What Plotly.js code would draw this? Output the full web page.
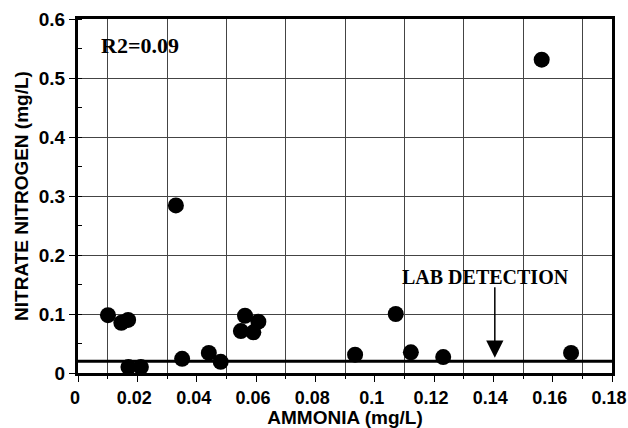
<!DOCTYPE html>
<html>
<head>
<meta charset="utf-8">
<script src="https://cdn.plot.ly/plotly-3.0.1.min.js"></script>
<style>html,body{margin:0;padding:0;background:#fff;}#chart{width:628px;height:428px;}</style>
</head>
<body>
<div id="chart"></div>
<script>
// Data
const ammonia = [0.0101, 0.0146, 0.0169, 0.0170, 0.0212, 0.0330, 0.0351, 0.0441, 0.0481,
                 0.0563, 0.0549, 0.0591, 0.0608, 0.0934, 0.1071, 0.1122, 0.1231, 0.1563, 0.1662];
const nitrate = [0.098, 0.085, 0.090, 0.010, 0.010, 0.284, 0.024, 0.034, 0.019,
                 0.097, 0.071, 0.069, 0.087, 0.031, 0.100, 0.035, 0.027, 0.531, 0.034];
const labDetection = 0.02;
const arrowX = 0.1405;
const r2Label = 'R2=0.09';
const labLabel = 'LAB DETECTION';
const xTickVals = [0, 0.02, 0.04, 0.06, 0.08, 0.1, 0.12, 0.14, 0.16, 0.18];
const xTickText = ['0', '0.02', '0.04', '0.06', '0.08', '0.1', '0.12', '0.14', '0.16', '0.18'];
const xGridVals = [0.01, 0.03, 0.05, 0.07, 0.09, 0.11, 0.13, 0.15, 0.17];
const yTickVals = [0, 0.1, 0.2, 0.3, 0.4, 0.5, 0.6];
const yTickText = ['0', '0.1', '0.2', '0.3', '0.4', '0.5', '0.6'];
const xRange = [0, 0.18];
const yRange = [0, 0.6];

const tickFont = {family: 'Liberation Sans, Arial, sans-serif', size: 19, color: '#000', weight: 'bold'};
const xTickFont = {family: 'Liberation Sans, Arial, sans-serif', size: 18, color: '#000', weight: 'bold'};
const titleFont = {family: 'Liberation Sans, Arial, sans-serif', size: 19, color: '#000', weight: 'bold'};
const serifFont = {family: 'Liberation Serif, Times New Roman, serif', size: 20, color: '#000', weight: 'bold'};
const r2Font = {family: 'Liberation Serif, Times New Roman, serif', size: 22, color: '#000', weight: 'bold'};

const pad = 1e-6;

const trace = {
  x: ammonia, y: nitrate, type: 'scatter', mode: 'markers',
  marker: {symbol: 'circle', size: 16, color: '#000', line: {width: 0}},
  hoverinfo: 'skip', showlegend: false
};
// invisible helper trace so the grid-only overlay axis is drawn
const gridTrace = {
  x: xRange, y: yRange, xaxis: 'x2', yaxis: 'y', type: 'scatter', mode: 'markers',
  marker: {size: 0, opacity: 0}, hoverinfo: 'skip', showlegend: false
};

const layout = {
  width: 628, height: 428,
  margin: {l: 78, r: 16, t: 19, b: 55},
  paper_bgcolor: '#fff', plot_bgcolor: '#fff',
  showlegend: false,
  xaxis2: {
    overlaying: 'x', anchor: 'y', side: 'bottom',
    range: [xRange[0] - pad, xRange[1] + pad],
    tickmode: 'array', tickvals: xGridVals, showticklabels: false,
    showgrid: true, gridcolor: '#444', gridwidth: 1, zeroline: false,
    showline: false, ticks: 'outside', ticklen: 5, tickcolor: '#000', tickwidth: 1
  },
  xaxis: {
    range: [xRange[0] - pad, xRange[1] + pad], tickmode: 'array', tickvals: xTickVals, ticktext: xTickText,
    showgrid: false, zeroline: false,
    showline: true, linecolor: '#000', linewidth: 3, mirror: true,
    ticks: 'outside', ticklen: 6, tickwidth: 1, tickcolor: '#000',
    tickfont: xTickFont, ticklabeloverflow: 'allow', ticklabelshift: -3,
    title: {text: 'AMMONIA (mg/L)', font: titleFont, standoff: 0}
  },
  yaxis: {
    range: [yRange[0] - pad, yRange[1] + pad], tickmode: 'array', tickvals: yTickVals, ticktext: yTickText,
    showgrid: true, gridcolor: '#444', gridwidth: 1, zeroline: false,
    showline: true, linecolor: '#000', linewidth: 3, mirror: true,
    ticks: 'outside', ticklen: 6, tickwidth: 1, tickcolor: '#000',
    tickfont: tickFont, ticklabeloverflow: 'allow',
    minor: {dtick: 0.05, ticks: 'inside', ticklen: 4, tickcolor: '#000', showgrid: false},
    title: {text: 'NITRATE NITROGEN (mg/L)', font: titleFont, standoff: 6}
  },
  shapes: [{
    type: 'line', xref: 'paper', x0: 0, x1: 1, yref: 'y', y0: labDetection, y1: labDetection,
    line: {color: '#000', width: 3}
  }],
  annotations: [
    {x: 0.0072, y: 0.555, xref: 'x', yref: 'y', text: r2Label, showarrow: false,
     xanchor: 'left', yanchor: 'middle', font: r2Font},
    {x: 0.1372, y: 0.162, xref: 'x', yref: 'y', text: labLabel, showarrow: false,
     xanchor: 'center', yanchor: 'middle', font: serifFont},
    {x: arrowX, y: labDetection + 0.006, xref: 'x', yref: 'y', text: '',
     ax: arrowX, ay: 0.148, axref: 'x', ayref: 'y', showarrow: true,
     arrowhead: 2, arrowsize: 2.3, arrowwidth: 1.5, arrowcolor: '#000', standoff: 0}
  ]
};

Plotly.newPlot('chart', [trace, gridTrace], layout, {staticPlot: true, displayModeBar: false});
</script>
</body>
</html>
